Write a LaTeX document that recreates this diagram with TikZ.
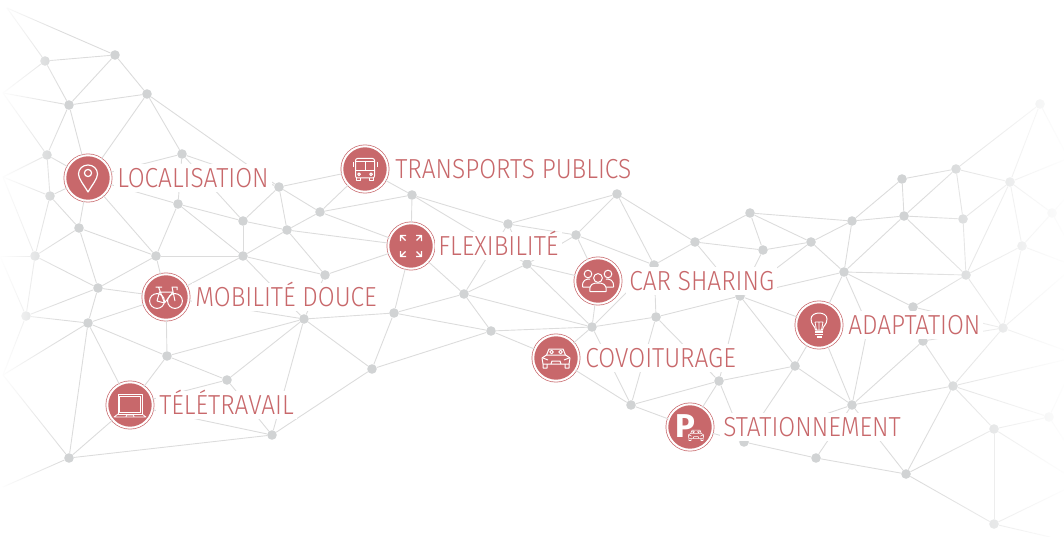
\documentclass[tikz,border=0pt]{standalone}
\usepackage{fontspec}
\setmainfont[FakeStretch=0.89]{Fira Sans Light}
\newfontfamily\iconfont{Fira Sans Bold}
\usepackage{xcolor}
\usetikzlibrary{positioning, fadings}
\definecolor{iconred}{HTML}{C8686B}
\definecolor{dotgrey}{HTML}{D1D3D4}
\definecolor{linegrey}{HTML}{DCDCDC}
\tikzfading[name=faderight, left color=transparent!100, right color=transparent!0]
\tikzfading[name=fadeleft, left color=transparent!0, right color=transparent!100]
\tikzset{netdot/.style={circle, fill=dotgrey, inner sep=0pt, minimum size=9.6pt}, netline/.style={draw=linegrey, line width=.9pt},
    itemicon/.style={circle, draw=iconred, line width=.7pt, double=white, double distance=2pt, fill=iconred, inner sep=0pt, minimum size=45.5pt},
    itemlabel/.style={fill=white, text=iconred, font=\fontsize{27.5}{27.5}\selectfont, inner xsep=3pt, inner ysep=4pt, text height=19.5pt, text depth=0pt},
    iconline/.style={draw=white, line width=1pt, line join=round},
    pinicon/.pic={
        \draw[iconline, line width=1.2pt] (0,14) .. controls (-4,7) and (-9.5,1) .. (-9.5,-4) .. controls (-9.5,-9.5) and (-5,-13) .. (0,-13) .. controls (5,-13) and (9.5,-9.5) .. (9.5,-4) .. controls (9.5,1) and (4,7) .. (0,14) -- cycle;
        \draw[iconline, line width=1.2pt] (0,-5) circle (3.6);
    },
    bikeicon/.pic={
        \draw[iconline] (-9,4) circle (7.4) (9,4) circle (7.4);
        \draw[iconline] (-9,4) -- (-1.5,6) -- (7,-5) -- (-6.5,-5) -- (-9,4) (-1.5,6) -- (-7.5,-10) (-10.5,-10) -- (-4,-10) (9,4) -- (6,-10) -- (11,-10) -- (11,-7);
    },
    laptopicon/.pic={
        \draw[iconline, line width=.7pt] (-12,-11) rectangle (12,9) (-10.5,-9) rectangle (10.5,7.5);
        \draw[iconline, line width=.8pt] (-12,9) -- (-16,12) -- (16,12) -- (12,9) (-4,12) -- (-3.5,10) -- (3.5,10) -- (4,12);
    },
    busicon/.pic={
        \draw[iconline, rounded corners=2pt] (-9.5,-10.5) rectangle (9.5,9);
        \draw[iconline] (-9.5,-7) -- (9.5,-7) (-9.5,1.5) -- (9.5,1.5) (0,-7) -- (0,1.5) (-8.5,9) -- (-8.5,11.5) -- (-4.5,11.5) -- (-4.5,9) (8.5,9) -- (8.5,11.5) -- (4.5,11.5) -- (4.5,9) (-12,-7) -- (-12,-2) (12,-7) -- (12,-2);
        \draw[iconline] (-6,5.3) circle (1.4) (6,5.3) circle (1.4);
    },
    flexicon/.pic={
        \foreach \sx/\sy in {1/1, 1/-1, -1/1, -1/-1}
            \draw[iconline, line width=1.3pt] (\sx*5.5,\sy*5.5) -- (\sx*10.5,\sy*10.5) (\sx*5,\sy*10.5) -- (\sx*10.5,\sy*10.5) -- (\sx*10.5,\sy*5);
    },
    crowdicon/.pic={
        \draw[iconline] (-10,-7) circle (3.8) (10,-7) circle (3.8);
        \draw[iconline] (-15.5,6) .. controls (-16,-1) and (-12,-2) .. (-8,-2) (15.5,6) .. controls (16,-1) and (12,-2) .. (8,-2) (-15.5,6) -- (-8,6) (15.5,6) -- (8,6);
        \draw[iconline, fill=iconred] (-8,10.5) .. controls (-9,3) and (-5,2) .. (0,2) .. controls (5,2) and (9,3) .. (8,10.5) -- cycle;
        \draw[iconline, fill=iconred] (0,-3) circle (4.4);
    },
    caricon/.pic={
        \draw[iconline] (-13,6) -- (-14,0) -- (-9.5,-3) -- (-7,-9) -- (7,-9) -- (9.5,-3) -- (14,0) -- (13,6) -- cycle (-9.5,-3) -- (9.5,-3);
        \draw[iconline] (-13,6) -- (-13,10) -- (-9,10) -- (-9,6) (13,6) -- (13,10) -- (9,10) -- (9,6) (-5,6) -- (-4,3) -- (4,3) -- (5,6) (-13,0) -- (-8,2) (13,0) -- (8,2);
        \draw[iconline] (-4.5,-6) circle (1.8) (4.5,-6) circle (1.8);
    },
    parkicon/.pic={
        \node[text=white, inner sep=0pt, font=\fontsize{33}{33}\iconfont] (parkP) at (-5,-1) {P};
        \pic[scale=.55, iconline/.append style={line width=.6pt}] at (6,8) {caricon};
    },
    bulbicon/.pic={
        \draw[iconline] (-3.5,5) .. controls (-3.5,1) and (-8,0) .. (-8,-6) .. controls (-8,-14) and (8,-14) .. (8,-6) .. controls (8,0) and (3.5,1) .. (3.5,5) -- cycle;
        \draw[iconline, line width=.8pt] (-2.5,5) -- (-4,-3) (0,5) -- (0,-3) (2.5,5) -- (4,-3) (-4,-3) -- (4,-3);
        \draw[iconline, line width=1.3pt] (-4,7) -- (4,7) (-4,9.5) -- (4,9.5) (-2.5,12) -- (2.5,12);
    },
}
\begin{document}
\begin{tikzpicture}[x=1pt,y=-1pt]
    \useasboundingbox (0,0) rectangle (1064,537);
    % dots of the network
    \foreach \name/\xp/\yp in {1/45/61, 2/115/55, 3/69/105, 4/147/94, 5/47/155, 6/182/154, 7/50/196, 8/79/228, 9/178/204, 10/279/187,
        11/320/212, 12/243/221, 13/287/230, 14/35/256, 15/156/256, 16/243/256, 17/98/288, 18/26/316, 19/88/323, 20/167/356,
        21/227/380, 22/304/319, 23/325/275, 24/272/435, 25/69/458, 26/412/195, 27/508/224, 28/617/194, 29/576/235, 30/654/265,
        31/527/264, 32/464/294, 33/394/313, 34/491/331, 35/592/327, 36/656/317, 37/372/369, 38/631/405, 39/750/213, 40/695/242,
        41/763/250, 42/811/242, 43/852/221, 44/904/216, 45/844/272, 46/740/296, 47/913/307, 48/923/341, 49/795/366, 50/719/381,
        51/852/405, 52/744/442, 53/816/458, 54/906/474, 55/902/179, 56/956/169, 57/1010/182, 58/1040/104, 59/1052/213, 60/1022/246,
        61/963/219, 62/966/275, 63/1003/328, 64/953/386, 65/994/429, 66/1049/417, 67/994/524}
        \node[netdot] (\name) at (\xp,\yp) {};
    % free ends at the border
    \foreach \name/\xp/\yp in {e1/7/8, e2/3/93, e3/3/177, e4/0/256, e6/3/375, e7/3/487, e8/1064/160, e9/1064/150, e10/1064/200, e11/1064/235,
        e12/1064/262, e13/1064/275, e14/1064/350, e15/1064/360, e16/1064/385, e17/1064/440, e18/1064/473, e19/1064/490, e20/1050/537, h1/868/326}
        \coordinate (\name) at (\xp,\yp);
    % icons
    \node[itemicon] (loc) at (88,178) {};
    \node[itemicon] (bike) at (166,297) {};
    \node[itemicon] (laptop) at (130,405) {};
    \node[itemicon] (bus) at (365,169) {};
    \node[itemicon] (flex) at (411,246) {};
    \node[itemicon] (crowd) at (598,281) {};
    \node[itemicon] (pool) at (556,358) {};
    \node[itemicon] (park) at (690,427) {};
    \node[itemicon] (bulb) at (819,325) {};
    \pic at (loc) {pinicon};
    \pic at (bike) {bikeicon};
    \pic at (laptop) {laptopicon};
    \pic at (bus) {busicon};
    \pic at (flex) {flexicon};
    \pic at (crowd) {crowdicon};
    \pic at (pool) {caricon};
    \pic at (park) {parkicon};
    \pic at (bulb) {bulbicon};
    % connections
    \foreach \a/\b in {1/e1, 2/e1, 1/2, 1/3, 2/3, 2/4, 3/4, 1/e2, 3/e2, 5/e2, 3/5, 3/loc, 4/loc, 5/loc, 7/loc, 8/loc, 15/loc, 9/loc, 6/loc, 4/6,
        4/10, 6/9, 6/12, 6/10, 9/12, 9/16, 9/15, 10/12, 10/13, 10/11, 10/bus, 11/bus, 11/13, 11/26, 11/flex, 13/flex, 23/flex, 12/13, 12/16, 13/16,
        13/23, 16/23, 16/22, 16/bike, 15/16, 15/bike, 15/17, 15/8, 8/17, 8/14, 7/8, 7/5, 7/14, 7/e3, 5/e3, 14/e3, 14/e4, 18/e4, 14/17, 14/18,
        17/19, 17/18, 17/bike, 19/bike, 18/19, 18/e6, 19/e6, 19/20, 19/25, 19/laptop, 20/bike, 20/22, 20/21, 20/laptop, 21/22, 21/24, 21/laptop, laptop/24, laptop/25, 24/25,
        24/22, 24/37, 25/e6, 25/e7, 22/bike, 22/23, 22/33, 22/37, 26/flex, 26/bus, 26/27, 26/31, 27/28, 27/29, 27/31, 27/32, 28/29, 28/30, 28/40, 29/30,
        29/31, 29/crowd, 31/crowd, 31/32, 31/35, 32/flex, 32/33, 32/34, 32/35, 33/flex, 33/34, 33/37, 34/35, 34/37, 34/pool, 35/crowd, 35/30, 35/36, 35/pool, 35/38,
        36/30, 36/46, 36/38, 36/50, pool/38, 38/50, 38/park, 50/park, 50/49, 50/46, 50/52, 46/49, 46/bulb, 46/45, 46/40, 46/41, 46/42, 30/40, 40/39, 40/41,
        39/41, 39/42, 39/43, 41/42, 42/43, 42/45, 43/45, 43/44, 43/55, 44/45, 44/55, 44/56, 44/61, 44/62, 45/62, 45/47, 45/bulb, 45/h1, h1/51, bulb/49,
        bulb/51, 49/51, 49/52, 51/48, 51/64, 51/52, 51/53, 51/54, 52/53, park/52, 53/54, 54/64, 54/65, 54/67, 65/67, 65/64, 65/66, 64/66, 48/64, 48/63,
        47/63, 47/62, 62/61, 62/57, 62/60, 62/63, 61/56, 61/57, 56/55, 56/57, 56/58, 57/58, 57/59, 57/60, 57/e8, 58/e9, 59/60, 59/e10, 59/e11, 60/63,
        60/e12, 63/64, 63/e13, 63/e14, 64/e15, 66/e16, 66/e17, 65/e18, 67/e19, 67/e20}
        \draw[netline] (\a) -- (\b);
    % fade out at both sides
    \fill[white, path fading=fadeleft] (-1,-1) rectangle (62,538);
    \fill[white, path fading=faderight] (920,-1) rectangle (1070,538);
    % labels
    \node[itemlabel, right=3pt of loc] (locl) {LOCALISATION};
    \node[itemlabel, right=3pt of bike] (bikel) {MOBILITÉ DOUCE};
    \node[itemlabel, right=3pt of laptop] (laptopl) {TÉLÉTRAVAIL};
    \node[itemlabel, right=4pt of bus] (busl) {TRANSPORTS PUBLICS};
    \node[itemlabel, right=1pt of flex] (flexl) {FLEXIBILITÉ};
    \node[itemlabel, right=5pt of crowd] (crowdl) {CAR SHARING};
    \node[itemlabel, right=3pt of pool] (pooll) {COVOITURAGE};
    \node[itemlabel, right=7pt of park] (parkl) {STATIONNEMENT};
    \node[itemlabel, right=3pt of bulb] (bulbl) {ADAPTATION};
\end{tikzpicture}
\end{document}
